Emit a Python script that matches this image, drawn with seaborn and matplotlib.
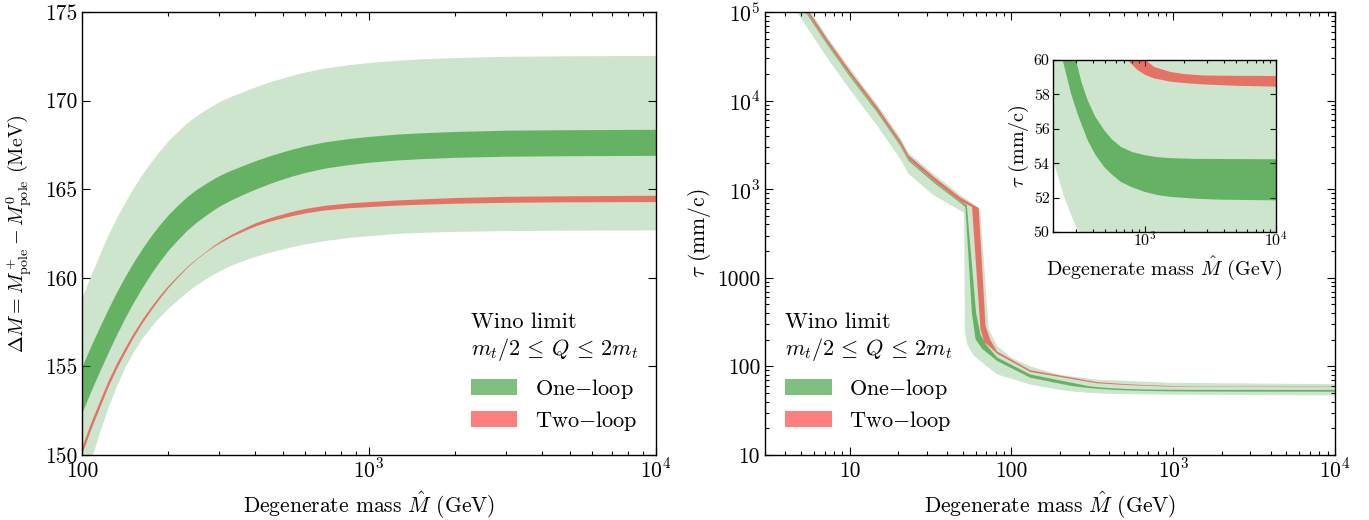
import numpy as np
import matplotlib
matplotlib.use("Agg")
import matplotlib.pyplot as plt
from matplotlib.patches import Patch
from matplotlib.ticker import NullFormatter, FixedLocator, LogLocator
import seaborn as sns

# ---------------- data: left panel (Delta M [MeV] vs M-hat [GeV]) ----------------
M_left = [100, 107, 115, 123, 132, 141, 150, 162, 175, 187, 200, 215, 232, 250, 270, 290, 306,
          330, 350, 380, 405, 440, 470, 536, 600, 700, 850, 1000, 1250, 1500, 2000, 3000, 5000,
          10000]
one_loop_scale_hi = [158.9, 160.1, 161.3, 162.4, 163.4, 164.25, 165.0, 165.85, 166.6, 167.2,
                     167.75, 168.25, 168.75, 169.15, 169.5, 169.8, 170.0, 170.24, 170.4, 170.63,
                     170.8, 171.0, 171.15, 171.42, 171.62, 171.84, 172.03, 172.15, 172.28, 172.35,
                     172.43, 172.5, 172.53, 172.55]
one_loop_scale_lo = [148.0, 149.65, 151.25, 152.65, 153.9, 154.95, 155.75, 156.6, 157.3, 157.82,
                     158.3, 158.75, 159.2, 159.6, 159.95, 160.25, 160.45, 160.7, 160.87, 161.08,
                     161.23, 161.4, 161.52, 161.75, 161.92, 162.1, 162.28, 162.38, 162.5, 162.56,
                     162.62, 162.66, 162.69, 162.7]
one_loop_hi = [155.0, 156.1, 157.2, 158.2, 159.2, 160.05, 160.8, 161.65, 162.42, 163.02, 163.57,
               164.08, 164.58, 164.98, 165.33, 165.63, 165.83, 166.07, 166.23, 166.46, 166.63,
               166.83, 166.98, 167.25, 167.45, 167.67, 167.86, 167.98, 168.11, 168.18, 168.26,
               168.33, 168.36, 168.38]
one_loop_lo = [152.4, 153.55, 154.7, 155.75, 156.8, 157.72, 158.53, 159.45, 160.3, 160.96, 161.57,
               162.13, 162.68, 163.13, 163.53, 163.88, 164.11, 164.39, 164.58, 164.84, 165.03,
               165.26, 165.43, 165.73, 165.95, 166.19, 166.39, 166.52, 166.65, 166.72, 166.8,
               166.86, 166.89, 166.91]
two_loop_mid = [150.3, 151.6, 152.85, 154.0, 155.05, 155.92, 156.7, 157.57, 158.34, 158.96,
                159.53, 160.07, 160.61, 161.07, 161.48, 161.84, 162.08, 162.38, 162.58, 162.85,
                163.04, 163.24, 163.38, 163.62, 163.79, 163.96, 164.09, 164.16, 164.25, 164.3,
                164.37, 164.43, 164.46, 164.48]
two_loop_halfwidth = [0.2, 0.19, 0.18, 0.165, 0.15, 0.135, 0.12, 0.105, 0.09, 0.075, 0.06, 0.045,
                      0.03, 0.02, 0.02, 0.035, 0.05, 0.06, 0.07, 0.08, 0.09, 0.095, 0.1, 0.12,
                      0.125, 0.13, 0.135, 0.14, 0.145, 0.15, 0.16, 0.17, 0.17, 0.18]

# ---------------- data: right panel (tau vs M-hat), values on the plotted log axis ----------------
scale_lo_M = [4.4, 5.4, 7.3, 10.1, 14.8, 20.6, 23.2, 33.1, 45.0, 51.0, 51.6, 53.5, 58.7, 81.7,
              131, 200, 244, 299, 400, 955, 10000]
scale_lo_tau = [1.22e6, 6.9e5, 3.0e5, 1.31e5, 5.2e4, 2.18e4, 1.48e4, 8.5e3, 6.2e3, 5.4e3, 240,
                175, 131, 81, 62.4, 54.2, 52.0, 50.3, 49.0, 47.9, 47.0]
scale_hi_M = [5.0, 5.4, 7.3, 10.1, 14.8, 20.6, 23.2, 33.1, 48.4, 62.8, 64.4, 72.4, 81.7, 100,
              131, 200, 338, 955, 10000]
scale_hi_tau = [1.49e6, 1.2e6, 5.2e5, 2.28e5, 9.1e4, 3.8e4, 2.57e4, 1.48e4, 8.6e3, 6.2e3, 5.5e3,
                263, 170, 125, 100, 80, 71, 65.3, 63.0]

one_lo_M = [5.0, 5.4, 7.3, 10.1, 14.8, 20.6, 23.2, 33.1, 48.4, 52.0, 57.0, 60.0, 66.0, 81.7, 131,
            237, 274, 310, 367, 420, 491, 560, 658, 800, 1000, 1250, 1575, 2500, 3776, 10000]
one_lo_tau = [1.2e6, 9.7e5, 4.24e5, 1.84e5, 7.37e4, 3.07e4, 2.08e4, 1.19e4, 7.0e3, 6.3e3, 400,
              203, 158, 115, 74.5, 60, 58.06, 56.8, 55.34, 54.5, 53.78, 53.35, 52.91, 52.6,
              52.33, 52.15, 52.04, 51.93, 51.88, 51.84]
one_hi_M = [5.0, 5.4, 7.3, 10.1, 14.8, 20.6, 23.2, 33.1, 48.4, 53.0, 60.5, 64.4, 70.0, 81.7, 131,
            299, 330, 367, 420, 491, 560, 658, 800, 1000, 1250, 1575, 2500, 10000]
one_hi_tau = [1.25e6, 1.01e6, 4.41e5, 1.92e5, 7.68e4, 3.19e4, 2.16e4, 1.24e4, 7.27e3, 6.6e3, 400,
              230, 175, 126, 81, 60, 58.7, 57.67, 56.7, 55.92, 55.4, 54.95, 54.65, 54.47, 54.35,
              54.29, 54.25, 54.23]

two_lo_M = [5.0, 5.4, 7.3, 10.1, 14.8, 20.6, 23.2, 33.1, 48.4, 57.1, 64.4, 68.0, 81.7, 131, 338,
            500, 739, 881, 1000, 1177, 1575, 2000, 2818, 5000, 10000]
two_lo_tau = [1.26e6, 1.02e6, 4.46e5, 1.94e5, 7.75e4, 3.22e4, 2.18e4, 1.25e4, 7.3e3, 6.3e3, 263,
              190, 139, 86.5, 64.5, 61.8, 60.0, 59.42, 59.15, 58.93, 58.74, 58.66, 58.58, 58.5,
              58.45]
two_hi_M = [5.0, 5.4, 7.3, 10.1, 14.8, 20.6, 23.2, 33.1, 48.4, 62.8, 69.2, 74.0, 81.7, 131, 338,
            500, 700, 1018, 1177, 1575, 2000, 2818, 5000, 10000]
two_hi_tau = [1.39e6, 1.12e6, 4.9e5, 2.13e5, 8.5e4, 3.54e4, 2.4e4, 1.38e4, 8.06e3, 6.1e3, 287,
              200, 147, 90.5, 66.5, 63.2, 61.3, 60.0, 59.6, 59.3, 59.18, 59.1, 59.08, 59.07]

# ---------------- tick labels / texts ----------------
left_yticks = [150, 155, 160, 165, 170, 175]
left_xticks = [100, 1000, 10000]
left_xlabels = ["100", r"$10^3$", r"$10^4$"]
right_xticks = [10, 100, 1000, 10000]
right_xlabels = ["10", "100", r"$10^3$", r"$10^4$"]
right_yticks = [10, 100, 1000, 1e4, 1e5, 1e6]
right_ylabels = ["10", "100", "1000", r"$10^3$", r"$10^4$", r"$10^5$"]
inset_yticks = [50, 52, 54, 56, 58, 60]
inset_xticks = [1000, 10000]
inset_xlabels = [r"$10^3$", r"$10^4$"]

xlabel_text = r"Degenerate mass $\hat{M}$ (GeV)"
legend_title = "Wino limit\n" + r"$m_t/2 \,\leq\, Q \,\leq\, 2m_t$"
legend_labels = ["One$-$loop", "Two$-$loop"]

# ---------------- style ----------------
sns.set_theme(style="ticks")
plt.rcParams.update({
    "font.family": "serif",
    "font.serif": ["cmr10", "DejaVu Serif"],
    "mathtext.fontset": "cm",
    "axes.formatter.use_mathtext": True,
    "axes.edgecolor": "black",
    "axes.linewidth": 1.0,
    "xtick.color": "black",
    "ytick.color": "black",
    "text.color": "black",
    "axes.labelcolor": "black",
})

GREEN = "green"
RED = "red"

fig = plt.figure(figsize=(13.69, 5.2), dpi=100)
W, H = 1369.0, 520.0
ax1 = fig.add_axes([82 / W, 1 - 455 / H, 574 / W, 443 / H])
ax2 = fig.add_axes([765 / W, 1 - 455 / H, 570 / W, 443 / H])
axin = fig.add_axes([1053 / W, 1 - 232 / H, 223 / W, 172 / H])


def style_ticks(ax, size, xpad, ypad, major=6, minor=3):
    ax.tick_params(which="both", direction="in", top=True, right=True, width=0.8,
                   labelsize=size, colors="black")
    ax.tick_params(which="major", length=major)
    ax.tick_params(which="minor", length=minor)
    ax.tick_params(axis="x", which="major", pad=xpad)
    ax.tick_params(axis="y", which="major", pad=ypad)


def baseline_xlabels(ax):
    for t in ax.xaxis.get_major_ticks():
        t.label1.set_verticalalignment("baseline")


# ---- left panel ----
ax1.fill_between(M_left, one_loop_scale_lo, one_loop_scale_hi, color=GREEN, alpha=0.2, lw=0)
ax1.fill_between(M_left, one_loop_lo, one_loop_hi, color=GREEN, alpha=0.5, lw=0)
mid = np.array(two_loop_mid)
hw = np.array(two_loop_halfwidth)
ax1.fill_between(M_left, mid - hw, mid + hw, color=RED, alpha=0.5, lw=0)
ax1.set_xscale("log")
ax1.set_xlim(100, 1e4)
ax1.set_ylim(150, 175)
ax1.set_yticks(left_yticks)
ax1.set_yticklabels([str(v) for v in left_yticks])
ax1.xaxis.set_major_locator(FixedLocator(left_xticks))
ax1.set_xticklabels(left_xlabels)
ax1.xaxis.set_minor_locator(LogLocator(base=10, subs=np.arange(2, 10)))
ax1.xaxis.set_minor_formatter(NullFormatter())
style_ticks(ax1, 15.5, xpad=16, ypad=3.5)
baseline_xlabels(ax1)
ax1.set_xlabel(xlabel_text, fontsize=15.5, labelpad=6)
ax1.set_ylabel(r"$\Delta M = M^+_{\rm pole} - M^0_{\rm pole}$ (MeV)", fontsize=14.5, labelpad=7)


def draw_right(ax):
    ax.fill(list(scale_lo_M) + list(scale_hi_M)[::-1],
            list(scale_lo_tau) + list(scale_hi_tau)[::-1], color=GREEN, alpha=0.2, lw=0)
    ax.fill(list(one_lo_M) + list(one_hi_M)[::-1],
            list(one_lo_tau) + list(one_hi_tau)[::-1], color=GREEN, alpha=0.5, lw=0)
    ax.fill(list(two_lo_M) + list(two_hi_M)[::-1],
            list(two_lo_tau) + list(two_hi_tau)[::-1], color=RED, alpha=0.5, lw=0)


# ---- right panel ----
draw_right(ax2)
ax2.set_xscale("log")
ax2.set_yscale("log")
ax2.set_xlim(3, 1e4)
ax2.set_ylim(10, 1e6)
ax2.xaxis.set_major_locator(FixedLocator(right_xticks))
ax2.set_xticklabels(right_xlabels)
ax2.yaxis.set_major_locator(FixedLocator(right_yticks))
ax2.set_yticklabels(right_ylabels)
ax2.xaxis.set_minor_locator(LogLocator(base=10, subs=np.arange(2, 10)))
ax2.yaxis.set_minor_locator(LogLocator(base=10, subs=np.arange(2, 10)))
ax2.xaxis.set_minor_formatter(NullFormatter())
ax2.yaxis.set_minor_formatter(NullFormatter())
style_ticks(ax2, 15.5, xpad=16, ypad=3.5)
baseline_xlabels(ax2)
ax2.set_xlabel(xlabel_text, fontsize=15.5, labelpad=6)
ax2.set_ylabel(r"$\tau$ (mm/c)", fontsize=15.5, labelpad=3)

# ---- inset ----
axin.set_facecolor("white")
draw_right(axin)
axin.set_xscale("log")
axin.set_xlim(200, 1e4)
axin.set_ylim(50, 60)
axin.set_yticks(inset_yticks)
axin.set_yticklabels([str(v) for v in inset_yticks])
axin.xaxis.set_major_locator(FixedLocator(inset_xticks))
axin.set_xticklabels(inset_xlabels)
axin.xaxis.set_minor_locator(LogLocator(base=10, subs=np.arange(2, 10)))
axin.xaxis.set_minor_formatter(NullFormatter())
axin.tick_params(which="both", direction="in", top=True, right=True, width=0.8,
                 labelsize=11.5, colors="black")
axin.tick_params(which="major", length=4)
axin.tick_params(which="minor", length=2)
axin.tick_params(axis="x", which="major", pad=10)
axin.tick_params(axis="y", which="major", pad=2.5)
baseline_xlabels(axin)
axin.set_xlabel(xlabel_text, fontsize=14.5, labelpad=4)
axin.set_ylabel(r"$\tau$ (mm/c)", fontsize=14.5, labelpad=2)


# ---- legends ----
def add_legend(ax, anchor):
    handles = [Patch(facecolor=GREEN, alpha=0.5, edgecolor="none"),
               Patch(facecolor=RED, alpha=0.5, edgecolor="none")]
    leg = ax.legend(handles, legend_labels, title=legend_title, loc="lower left",
                    bbox_to_anchor=anchor, frameon=False, fontsize=16, title_fontsize=16,
                    handlelength=2.1, handleheight=0.75, handletextpad=0.8,
                    labelspacing=0.37, borderpad=0.0, borderaxespad=0.0, alignment="left")
    leg._legend_box.sep = 10
    return leg


add_legend(ax1, (0.677, 0.05))
add_legend(ax2, (0.035, 0.05))

fig.savefig("out.png", dpi=100)
